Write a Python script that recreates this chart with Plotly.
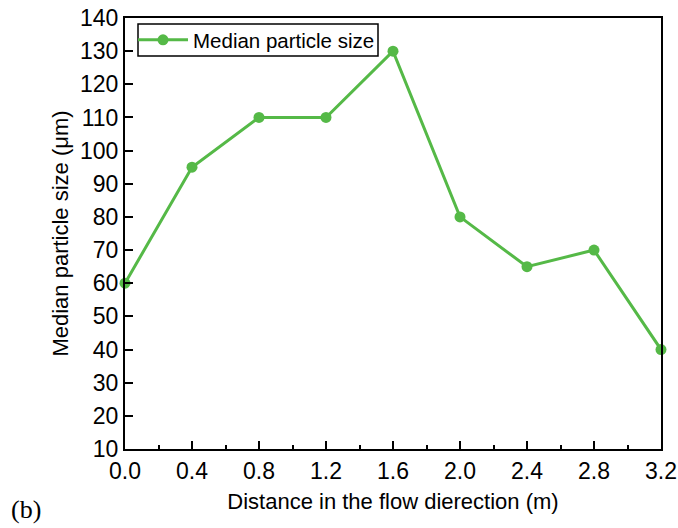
import plotly.graph_objects as go

distance = [0.0, 0.4, 0.8, 1.2, 1.6, 2.0, 2.4, 2.8, 3.2]
median_size = [60, 95, 110, 110, 130, 80, 65, 70, 40]

green = "#55B947"
font_family = "Liberation Sans"

# plot area in pixels: x 125..661, y 18..449
L, R, T, B = 125, 661, 18, 449
W, H = R - L, B - T


def px_x(p):
    return (p - L) / W


def px_y(p):
    return (B - p) / H


fig = go.Figure()
fig.add_trace(go.Scatter(
    x=distance, y=median_size, mode="lines+markers",
    name="Median particle size",
    line=dict(color=green, width=3),
    marker=dict(color=green, size=11),
    cliponaxis=False,
))

fig.update_layout(
    width=678, height=528,
    margin=dict(l=L, r=678 - R, t=T, b=528 - B),
    paper_bgcolor="white", plot_bgcolor="white",
    font=dict(family=font_family, size=22, color="black"),
    showlegend=True,
    legend=dict(
        x=px_x(133), y=px_y(40), xanchor="left", yanchor="middle",
        borderwidth=0, bgcolor="rgba(0,0,0,0)",
        font=dict(size=20.5), itemwidth=50,
    ),
    xaxis=dict(
        range=[0, 3.2], tick0=0, dtick=0.4, tickformat=".1f",
        ticks="inside", ticklen=8, tickwidth=1.5, tickcolor="black",
        minor=dict(ticks="inside", ticklen=4, dtick=0.2, tickwidth=1.5, tickcolor="black"),
        showline=True, linecolor="black", linewidth=2, mirror=True,
        showgrid=False, zeroline=False, automargin=False,
        tickfont=dict(size=23),
        title=dict(text="Distance in the flow dierection (m)", standoff=11, font=dict(size=22)),
    ),
    yaxis=dict(
        range=[10, 140], tick0=10, dtick=10,
        ticks="inside", ticklen=8, tickwidth=1.5, tickcolor="black",
        showline=True, linecolor="black", linewidth=2, mirror=True,
        showgrid=False, zeroline=False, automargin=False,
        tickfont=dict(size=23),
        title=dict(text="Median particle size (μm)", standoff=5, font=dict(size=22)),
    ),
)

# legend frame
fig.add_shape(
    type="rect", xref="paper", yref="paper",
    x0=px_x(138), x1=px_x(378), y0=px_y(56), y1=px_y(24),
    line=dict(color="black", width=1.5), fillcolor="rgba(0,0,0,0)",
)

fig.add_annotation(
    text="(b)", xref="paper", yref="paper", x=px_x(26), y=px_y(509),
    xanchor="center", yanchor="middle", showarrow=False,
    font=dict(family="Liberation Serif", size=26),
)

fig.write_html("out.html")
